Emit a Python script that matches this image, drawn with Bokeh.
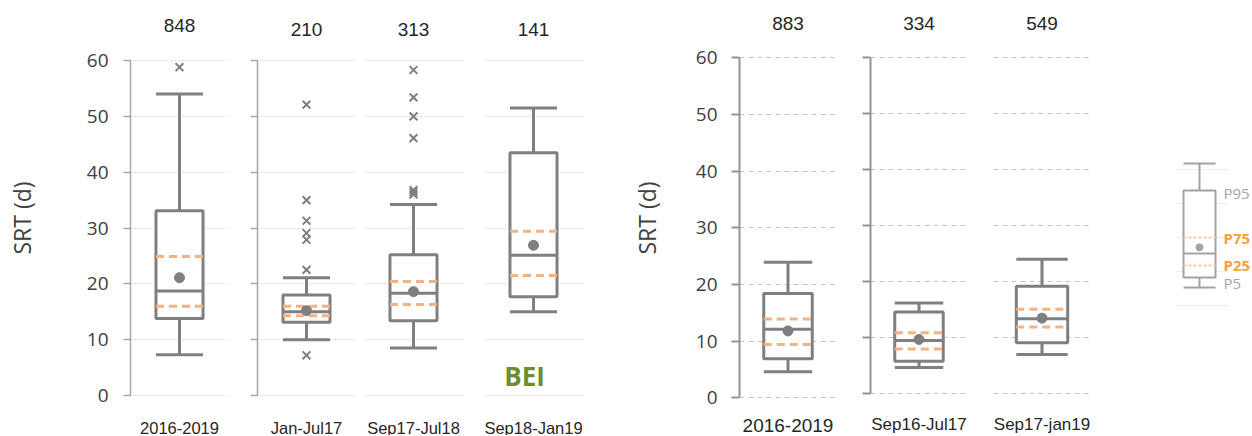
from bokeh.plotting import figure
from bokeh.models import ColumnDataSource, FactorRange, Range1d, FixedTicker, LabelSet, Grid
from bokeh.layouts import row
from bokeh.core.properties import value, field
from bokeh.embed import file_html
from bokeh.resources import INLINE

# ---------------- data: left block (BEI) ----------------
LEFT_CATS = ["2016-2019", "Jan-Jul17", "Sep17-Jul18", "Sep18-Jan19"]
LEFT_N = [848, 210, 313, 141]
LEFT_WHISKER_HI = [54.0, 21.1, 34.2, 51.5]
LEFT_P95 = [33.1, 18.0, 25.2, 43.5]
LEFT_P75 = [24.9, 16.0, 20.4, 29.4]
LEFT_MEDIAN = [18.7, 15.0, 18.3, 25.1]
LEFT_MEAN = [21.1, 15.2, 18.6, 26.9]
LEFT_P25 = [16.0, 14.3, 16.3, 21.5]
LEFT_P5 = [13.8, 13.1, 13.4, 17.7]
LEFT_WHISKER_LO = [7.3, 10.0, 8.5, 15.0]
LEFT_OUTLIERS = [
    [58.8],
    [52.1, 35.0, 31.3, 29.1, 27.9, 22.5, 7.2],
    [58.3, 53.4, 50.0, 46.1, 36.8, 36.4, 36.0],
    [],
]
LEFT_TAG = "BEI"

# ---------------- data: right block ----------------
RIGHT_CATS = ["2016-2019", "Sep16-Jul17", "Sep17-jan19"]
RIGHT_N = [883, 334, 549]
RIGHT_WHISKER_HI = [23.9, 16.1, 23.9]
RIGHT_P95 = [18.4, 14.5, 19.1]
RIGHT_P75 = [13.9, 10.8, 15.0]
RIGHT_MEDIAN = [12.1, 9.4, 13.3]
RIGHT_MEAN = [11.8, 9.6, 13.4]
RIGHT_P25 = [9.4, 7.9, 11.8]
RIGHT_P5 = [6.9, 5.7, 9.0]
RIGHT_WHISKER_LO = [4.6, 4.6, 6.9]
RIGHT_OUTLIERS = [[], [], []]

# ---------------- key (schematic legend) ----------------
KEY_WHISKER_HI = 4.18
KEY_P95 = 3.38
KEY_P75 = 2.0
KEY_MEAN = 1.71
KEY_MEDIAN = 1.53
KEY_P25 = 1.18
KEY_P5 = 0.82
KEY_WHISKER_LO = 0.53
KEY_LABELS = ["P95", "P75", "P25", "P5"]
KEY_LABEL_Y = [3.32, 2.0, 1.18, 0.65]
KEY_GRID = [0, 1, 2, 3, 4]

Y_TICKS = [0, 10, 20, 30, 40, 50, 60]
Y_LABEL = "SRT (d)"

# ---------------- styles / layout ----------------
GRAY = "#7f7f7f"
ORANGE = "#f4b183"
TEXT = "#404040"
DARK = "#262626"
H = 435


def data_y(row_px, zero_row, px):
    """value placed at the given pixel row (layout helper for labels)."""
    return (zero_row - row_px) / px


def off(x, d):
    return (x, d) if isinstance(x, str) else x + d


def new_fig(x_range, width, bl, br, y_rng, axes=True):
    kw = {} if axes else dict(x_axis_type=None, y_axis_type=None)
    p = figure(x_range=x_range, y_range=Range1d(*y_rng),
               width=width, height=H, output_backend="svg", toolbar_location=None,
               min_border_left=bl, min_border_right=br, min_border_top=0,
               min_border_bottom=0, title=None, **kw)
    p.outline_line_color = None
    p.background_fill_color = "white"
    p.border_fill_color = "white"
    if axes:
        p.xaxis.visible = False
        p.xgrid.visible = False
    return p


def draw_box(p, x, whi, p95, p75, med, mean, p25, p5, wlo, outs, box_w,
             lw=3, gray=GRAY, orange=ORANGE, dash="8 5", dot=10):
    half = box_w / 2
    p.segment(x0=[x, x], y0=[p95, p5], x1=[x, x], y1=[whi, wlo],
              line_color=gray, line_width=lw)
    p.vbar(x=[x], top=[p95], bottom=[p5], width=box_w, fill_color="white",
           line_color=gray, line_width=lw)
    p.segment(x0=[off(x, -half)] * 3, y0=[whi, wlo, med],
              x1=[off(x, half)] * 3, y1=[whi, wlo, med],
              line_color=gray, line_width=lw)
    p.segment(x0=[off(x, -half)] * 2, y0=[p75, p25],
              x1=[off(x, half)] * 2, y1=[p75, p25],
              line_color=orange, line_width=lw, line_dash=dash)
    p.scatter(x=[x], y=[mean], size=dot, fill_color=gray, line_color=gray)
    if outs:
        p.scatter(x=[x] * len(outs), y=outs, marker="x", size=11,
                  line_color=gray, line_width=2)


def style_yaxis(p, labels, axis_color, axis_w, tick_out, standoff, label_standoff=0):
    ax = p.yaxis[0]
    ax.ticker = FixedTicker(ticks=Y_TICKS)
    ax.bounds = (Y_TICKS[0], Y_TICKS[-1])
    ax.axis_line_color = axis_color
    ax.axis_line_width = axis_w
    ax.major_tick_line_color = axis_color
    ax.major_tick_line_width = axis_w
    ax.major_tick_out = tick_out
    ax.major_tick_in = 0
    ax.minor_tick_line_color = None
    if labels:
        ax.major_label_text_font = "Open Sans"
        ax.major_label_text_font_size = "19px"
        ax.major_label_text_color = TEXT
        ax.major_label_standoff = standoff
        ax.axis_label = Y_LABEL
        ax.axis_label_text_font = "Open Sans"
        ax.axis_label_text_font_size = "23px"
        ax.axis_label_text_font_style = "normal"
        ax.axis_label_text_color = TEXT
        ax.axis_label_standoff = label_standoff
    else:
        ax.major_label_overrides = {t: "" for t in Y_TICKS}
        ax.major_label_standoff = 0


def style_grid(p, color, dash, width=1):
    p.ygrid.ticker = FixedTicker(ticks=Y_TICKS)
    p.ygrid.grid_line_color = color
    p.ygrid.grid_line_dash = dash
    p.ygrid.grid_line_width = width


def add_texts(p, cat, n, count_y, cat_y, cat_size):
    p.text(x=[cat], y=[count_y], text=[str(n)], text_font=value("Liberation Sans"),
           text_font_size="19px", text_color=DARK, text_align="center",
           text_baseline="middle")
    p.text(x=[cat], y=[cat_y], text=[cat], text_font=value("Liberation Sans"),
           text_font_size=cat_size, text_color=DARK, text_align="center",
           text_baseline="middle")


figs = []

# ----- left block -----
# (fig width, border left, border right, y-axis mode, count row, label row)
LEFT_GEOM = [(240, 130, 12, "full", 25, 427), (118, 17, 3, "line", 29, 427),
             (112, 6, 8, None, 29, 427), (128, 14, 16, None, 29, 427)]
LZ, LPX = 395.0, 5.583          # pixel row of value 0, px per unit
L_RANGE = (-(H - LZ) / LPX, LZ / LPX)

for i, cat in enumerate(LEFT_CATS):
    w, bl, br, mode, cy, ly = LEFT_GEOM[i]
    p = new_fig(FactorRange(factors=[cat]), w, bl, br, L_RANGE)
    style_grid(p, "#d6d6d6", "2 2")
    if mode is None:
        p.yaxis.visible = False
    else:
        style_yaxis(p, mode == "full", "#a6a6a6", 1.5, 7, 15, 46)
    draw_box(p, cat, LEFT_WHISKER_HI[i], LEFT_P95[i], LEFT_P75[i], LEFT_MEDIAN[i],
             LEFT_MEAN[i], LEFT_P25[i], LEFT_P5[i], LEFT_WHISKER_LO[i], LEFT_OUTLIERS[i], 0.48)
    add_texts(p, cat, LEFT_N[i], data_y(cy, LZ, LPX), data_y(ly, LZ, LPX), "16.5px")
    if i == len(LEFT_CATS) - 1:
        p.text(x=[cat], y=[data_y(375, LZ, LPX)], text=[LEFT_TAG], x_offset=-9,
               text_font=value("Open Sans"), text_font_style="bold",
               text_font_size="26px", text_color="#6f8f2f",
               text_align="center", text_baseline="middle")
    figs.append(p)

# ----- right block -----
RIGHT_GEOM = [(250, 141, 12, "full", 397.3, 5.667, 0.50, 425, "19px"),
              (120, 22, 1, "line", 392.7, 5.6, 0.50, 424, "17px"),
              (130, 25, 8, None, 392.7, 5.6, 0.53, 424, "17px")]
for i, cat in enumerate(RIGHT_CATS):
    w, bl, br, mode, z0, px, bw, ly, fs = RIGHT_GEOM[i]
    p = new_fig(FactorRange(factors=[cat]), w, bl, br, (-(H - z0) / px, z0 / px))
    style_grid(p, "#c4c4c4", "5 4")
    if mode is None:
        p.yaxis.visible = False
    else:
        style_yaxis(p, mode == "full", "#939393", 2, 8, 14, 30)
    draw_box(p, cat, RIGHT_WHISKER_HI[i], RIGHT_P95[i], RIGHT_P75[i], RIGHT_MEDIAN[i],
             RIGHT_MEAN[i], RIGHT_P25[i], RIGHT_P5[i], RIGHT_WHISKER_LO[i], RIGHT_OUTLIERS[i], bw)
    add_texts(p, cat, RIGHT_N[i], data_y(23, z0, px), data_y(ly, z0, px), fs)
    figs.append(p)

# ----- key -----
KZ, KPX = 305.0, 34.0
KEY_X = 0
k = new_fig(Range1d(-26, 51), 152, 75, 0, (-(H - KZ) / KPX, KZ / KPX), axes=False)
kgrid = Grid(dimension=1, ticker=FixedTicker(ticks=KEY_GRID), grid_line_color="#ececec",
             grid_line_width=1)
if "cross_bounds" in kgrid.properties():
    kgrid.cross_bounds = (-24, 29)
k.add_layout(kgrid)
draw_box(k, KEY_X, KEY_WHISKER_HI, KEY_P95, KEY_P75, KEY_MEDIAN, KEY_MEAN, KEY_P25,
         KEY_P5, KEY_WHISKER_LO, [], 32, lw=2, gray="#a3a3a3", orange="#f8c9a3",
         dash="3 2", dot=7)
key_src = ColumnDataSource(dict(
    x=[KEY_X] * len(KEY_LABELS), y=KEY_LABEL_Y, text=KEY_LABELS,
    color=["#a6a6a6", "#f5a431", "#f5a431", "#a6a6a6"],
    style=["normal", "bold", "bold", "normal"]))
k.add_layout(LabelSet(x="x", y="y", text="text", source=key_src, x_offset=24,
                      text_color=field("color"), text_font_style=field("style"),
                      text_font=value("Open Sans"), text_font_size="15px",
                      text_align="left", text_baseline="middle"))
figs.append(k)

layout = row(*figs)
open("out.html", "w").write(file_html(layout, INLINE))
